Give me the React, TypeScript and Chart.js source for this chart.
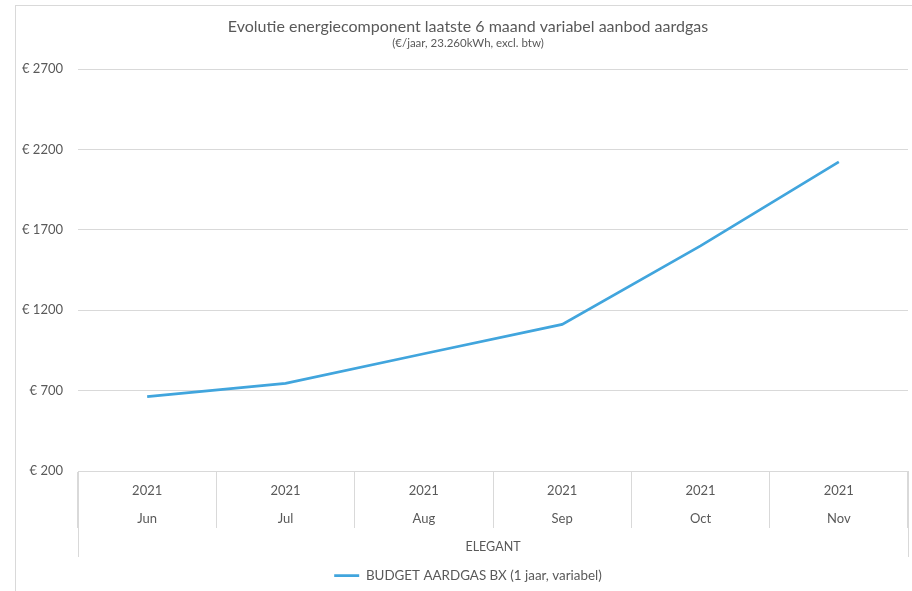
import React, { useEffect, useRef } from "react";
import { Chart, registerables } from "chart.js";

Chart.register(...registerables);

const years = ["2021", "2021", "2021", "2021", "2021", "2021"];
const months = ["Jun", "Jul", "Aug", "Sep", "Oct", "Nov"];
const groupLabel = "ELEGANT";
const seriesName = "BUDGET AARDGAS BX (1 jaar, variabel)";
const seriesValues = [662, 745, 929, 1112, 1600, 2122];
const yMin = 200;
const yMax = 2700;
const yStep = 500;
const titleText = "Evolutie energiecomponent laatste 6 maand variabel aanbod aardgas";
const subtitleText = "(€/jaar, 23.260kWh, excl. btw)";

const FONT = "Lato, 'Open Sans', sans-serif";
const TEXT = "#595959";
const GRID = "#d9d9d9";
const LINE = "#41a5dd";

const edgePlugin = {
  id: "edgeLines",
  afterLayout(chart: any) {
    // let the y tick labels extend left of the padded box without clipping
    if (chart.scales.y) chart.scales.y.left = 0;
  },
  afterDraw(chart: any) {
    const { ctx, chartArea } = chart;
    const xs = chart.scales.x;
    ctx.save();
    ctx.strokeStyle = GRID;
    ctx.lineWidth = 1;
    [chartArea.left, chartArea.right].forEach((px: number) => {
      const x = Math.round(px) + 0.5;
      ctx.beginPath();
      ctx.moveTo(x, chartArea.bottom);
      ctx.lineTo(x, xs.bottom - 2);
      ctx.stroke();
    });
    ctx.restore();
  },
};

export default function App() {
  const ref = useRef<HTMLCanvasElement | null>(null);

  useEffect(() => {
    if (!ref.current) return;
    const chart = new Chart(ref.current, {
      type: "line",
      data: {
        labels: months.map((m, i) => [years[i], m]),
        datasets: [
          {
            label: seriesName,
            data: seriesValues,
            borderColor: LINE,
            backgroundColor: LINE,
            borderWidth: 2.7,
            pointRadius: 0,
            pointHoverRadius: 0,
            tension: 0,
            pointStyle: "line",
          },
        ],
      },
      options: {
        responsive: false,
        animation: false,
        layout: { padding: { left: 28, right: 4, top: 0, bottom: -1.4 } },
        plugins: {
          title: {
            display: true,
            text: titleText,
            color: TEXT,
            font: { family: FONT, size: 16, weight: "normal", lineHeight: 1.2 },
            padding: { top: 17.4, bottom: 0 },
          },
          subtitle: {
            display: true,
            text: subtitleText,
            color: TEXT,
            font: { family: FONT, size: 11.5, weight: "normal", lineHeight: 1.2 },
            padding: { top: 0, bottom: 18.6 },
          },
          legend: {
            position: "bottom",
            labels: {
              usePointStyle: true,
              pointStyle: "line",
              pointStyleWidth: 25,
              color: TEXT,
              padding: 10,
              font: { family: FONT, size: 13.4 },
            },
          },
          tooltip: { enabled: false },
        },
        scales: {
          x: {
            type: "category",
            offset: true,
            grid: {
              offset: true,
              drawOnChartArea: false,
              drawTicks: true,
              tickLength: 57,
              color: GRID,
            },
            border: { display: true, color: GRID },
            ticks: {
              color: TEXT,
              font: { family: FONT, size: 13, lineHeight: 2.2 },
              padding: -51.6,
              maxRotation: 0,
              autoSkip: false,
            },
            title: {
              display: true,
              text: groupLabel,
              color: TEXT,
              font: { family: FONT, size: 12.5, lineHeight: 1.2 },
              padding: { top: 6, bottom: 4.3 },
            },
            afterFit: (s: any) => {
              s.height = 88;
            },
          },
          y: {
            min: yMin,
            max: yMax,
            grid: { drawTicks: false, color: GRID },
            border: { display: false },
            ticks: {
              stepSize: yStep,
              color: TEXT,
              padding: 15,
              font: { family: FONT, size: 13 },
              callback: (v: any) => "€ " + v,
            },
            afterFit: (s: any) => {
              s.width = 50;
            },
          },
        },
      },
      plugins: [edgePlugin],
    });
    return () => chart.destroy();
  }, []);

  return (
    <div style={{ position: "absolute", left: 0, top: 0, width: 912, height: 591, background: "#fff", overflow: "hidden" }}>
      <div
        style={{
          position: "absolute",
          left: 15,
          top: 5,
          right: 0,
          bottom: 0,
          borderLeft: "1px solid " + GRID,
          borderTop: "1px solid " + GRID,
        }}
      />
      <canvas ref={ref} width={912} height={591} style={{ position: "absolute", left: 0, top: 0, width: 912, height: 591 }} />
    </div>
  );
}
